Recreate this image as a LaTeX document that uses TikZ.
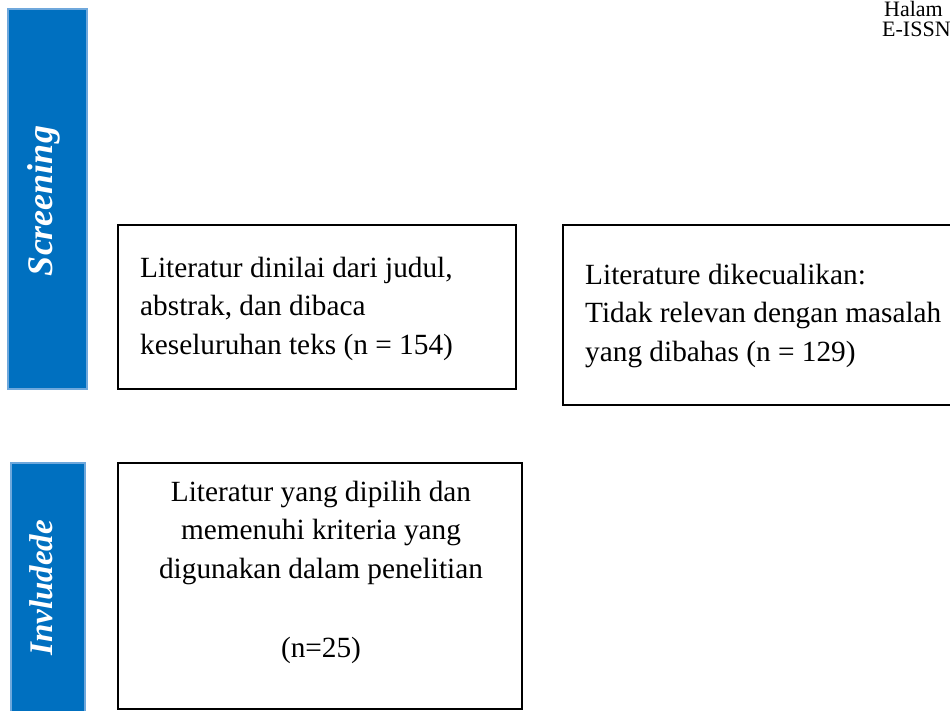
\documentclass[tikz,border=0pt]{standalone}
\usepackage{fontspec}
\setmainfont{Liberation Serif}
\definecolor{barblue}{HTML}{0070C0}
\definecolor{baredge}{HTML}{6FA8DC}
\begin{document}
\begin{tikzpicture}[x=1pt,y=-1pt,
  bar/.style={fill=barblue,draw=baredge,line width=1.5pt},
  stagebox/.style={draw=black,line width=1.6pt},
  bartext/.style={text=white,font=\fontsize{#1}{40}\selectfont\bfseries\itshape,rotate=90,inner sep=0pt},
  boxtext/.style={font=\fontsize{29.3}{38.5}\selectfont,inner sep=0pt,align=left},
  headtext/.style={font=\fontsize{22}{26}\selectfont,inner sep=0pt}]
\useasboundingbox (0,0) rectangle (950,711);
\clip (0,0) rectangle (950,711);
% side bars
\draw[bar] (8,9) rectangle (87,389);
\draw[bar] (11,463) rectangle (85,720);
\node[bartext=36] (scr) at (44,201) {Screening};
\node[bartext=33] (inc) at (41,588) {Invludede};
% boxes
\draw[stagebox] (118,225) rectangle (516,389);
\draw[stagebox] (563,225) rectangle (960,405);
\draw[stagebox] (118,463) rectangle (522,709);
\node[boxtext,anchor=base west] (t1) at (140,354) {Literatur dinilai dari judul,\\abstrak, dan dibaca\\keseluruhan teks (n = 154)};
\node[boxtext,anchor=base west] (t2) at (585,361) {Literature dikecualikan:\\Tidak relevan dengan masalah\\yang dibahas (n = 129)};
\node[boxtext,align=center,anchor=base] (t3) at (321,578) {Literatur yang dipilih dan\\memenuhi kriteria yang\\digunakan dalam penelitian};
\node[boxtext,anchor=base] (t4) at (321,657) {(n=25)};
% header
\node[headtext,anchor=base west] (h1) at (884,17) {Halam};
\node[headtext,anchor=base west] (h2) at (882,37) {E-ISSN};
\end{tikzpicture}
\end{document}
